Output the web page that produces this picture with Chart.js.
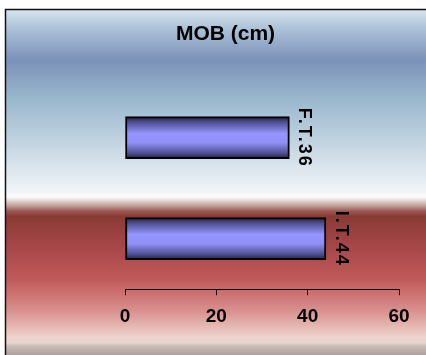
<!DOCTYPE html>
<html>
<head>
<meta charset="utf-8">
<script src="https://cdn.jsdelivr.net/npm/chart.js@4/dist/chart.umd.min.js"></script>
<style>
  html, body { margin: 0; padding: 0; background: #ffffff; }
  #wrap { width: 426px; height: 355px; }
</style>
</head>
<body>
<div id="wrap"><canvas id="c" width="426" height="355"></canvas></div>
<script>
// Data
const categories = ['F.T.', 'I.T.'];
const values = [36, 44];
const xTicks = [0, 20, 40, 60];
const chartTitle = 'MOB (cm)';

const FONT = '"Liberation Sans", Arial, Helvetica, sans-serif';

// Banded backdrop: blue sky on top, red band below
const backdrop = {
  id: 'backdrop',
  beforeDraw(chart) {
    const ctx = chart.ctx;
    const W = chart.width, H = chart.height;
    ctx.save();
    ctx.fillStyle = '#ffffff';
    ctx.fillRect(0, 0, W, H);
    const g = ctx.createLinearGradient(0, 10, 0, H);
    const span = H - 10;
    const stop = (y, c) => g.addColorStop(Math.min(1, Math.max(0, (y - 10) / span)), c);
    stop(10, '#d6e4ee');
    stop(30, '#a9bfd6');
    stop(60, '#7b92b9');
    stop(100, '#9bb8cd');
    stop(150, '#c9d9e5');
    stop(190, '#f0f4f7');
    stop(197, '#fbfbfb');
    stop(201, '#e2d2ce');
    stop(206, '#bf9c98');
    stop(211, '#9c5a55');
    stop(216, '#8a3a34');
    stop(250, '#a9484a');
    stop(280, '#c15a5a');
    stop(310, '#d88f8d');
    stop(337, '#edd3cb');
    stop(343, '#e6d6d0');
    stop(346, '#cdbdb8');
    stop(355, '#ae9f9c');
    ctx.fillStyle = g;
    ctx.fillRect(6, 10, W - 6, H - 10);
    ctx.strokeStyle = '#111111';
    ctx.lineWidth = 1.5;
    ctx.beginPath();
    ctx.moveTo(5.5, H);
    ctx.lineTo(5.5, 9.5);
    ctx.lineTo(W, 9.5);
    ctx.stroke();
    ctx.restore();
  }
};

// Rotated "category+value" labels at the end of each bar
const barLabels = {
  id: 'barLabels',
  afterDatasetsDraw(chart) {
    const ctx = chart.ctx;
    const meta = chart.getDatasetMeta(0);
    ctx.save();
    ctx.fillStyle = '#000000';
    ctx.font = 'bold 18px ' + FONT;
    ctx.letterSpacing = '2px';
    ctx.textAlign = 'center';
    ctx.textBaseline = 'middle';
    meta.data.forEach((bar, i) => {
      ctx.save();
      ctx.translate(bar.x + 15, bar.y);
      ctx.rotate(Math.PI / 2);
      ctx.fillText(categories[i] + values[i], 0, 0);
      ctx.restore();
    });
    ctx.restore();
  }
};

function barFill(context) {
  const chart = context.chart;
  const yScale = chart.scales.y;
  if (!chart.chartArea || !yScale) return '#9090ff';
  const cy = yScale.getPixelForValue(context.dataIndex);
  const g = chart.ctx.createLinearGradient(0, cy - 21, 0, cy + 21);
  g.addColorStop(0, '#1e1e3c');
  g.addColorStop(0.12, '#4c4c8c');
  g.addColorStop(0.4, '#9595ff');
  g.addColorStop(0.62, '#9090f6');
  g.addColorStop(0.88, '#4c4c8c');
  g.addColorStop(1, '#1e1e3c');
  return g;
}

new Chart(document.getElementById('c'), {
  type: 'bar',
  data: {
    labels: categories,
    datasets: [{
      data: values,
      backgroundColor: barFill,
      borderColor: '#000000',
      borderWidth: 2,
      borderSkipped: false,
      barThickness: 42
    }]
  },
  options: {
    indexAxis: 'y',
    responsive: false,
    animation: false,
    devicePixelRatio: 1,
    layout: { padding: { left: 52, right: 27, top: 9, bottom: 17 } },
    plugins: {
      legend: { display: false },
      tooltip: { enabled: false },
      title: {
        display: true,
        text: chartTitle,
        color: '#000000',
        font: { family: FONT, size: 21, weight: 'bold' },
        padding: { top: 13, bottom: 40 }
      }
    },
    scales: {
      x: {
        min: 0,
        max: 60,
        afterBuildTicks(scale) { scale.ticks = xTicks.map(v => ({ value: v })); },
        ticks: {
          color: '#000000',
          font: { family: FONT, size: 19, weight: 'bold' },
          padding: 10,
          maxRotation: 0
        },
        grid: { display: true, drawOnChartArea: false, drawTicks: true, tickLength: 6, color: '#000000' },
        border: { display: true, color: '#000000', width: 1 }
      },
      y: {
        display: true,
        ticks: { display: false },
        grid: { display: false, drawTicks: false },
        border: { display: false },
        afterFit(scale) { scale.width = 73; }
      }
    }
  },
  plugins: [backdrop, barLabels]
});
</script>
</body>
</html>
